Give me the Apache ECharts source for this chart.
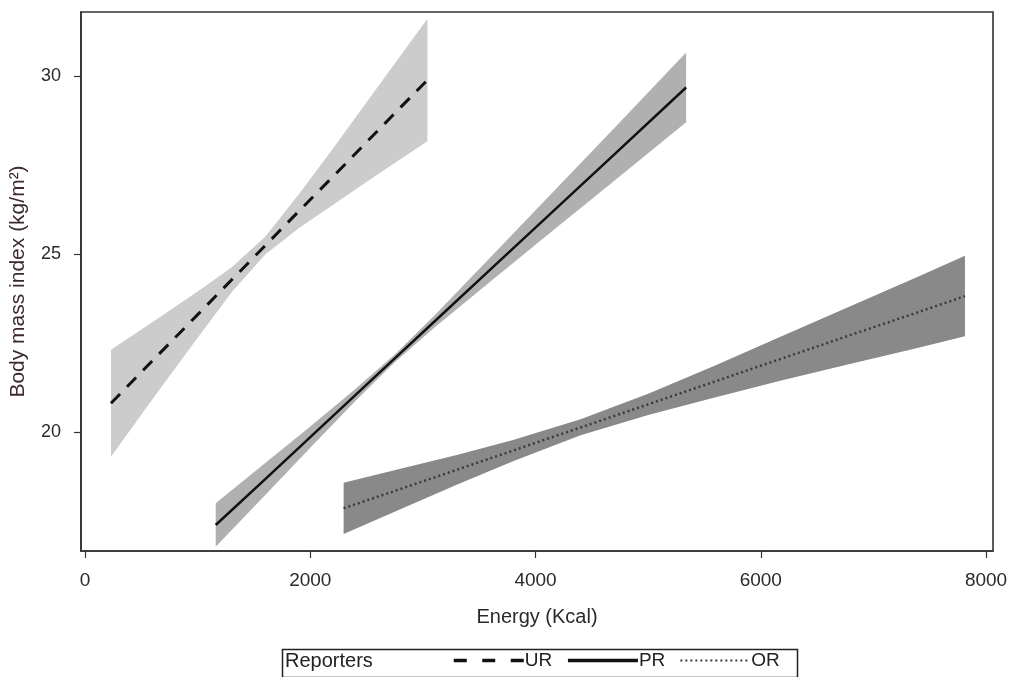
<!DOCTYPE html>
<html>
<head>
<meta charset="utf-8">
<script src="https://cdn.jsdelivr.net/npm/echarts@6/dist/echarts.min.js"></script>
<style>
html,body{margin:0;padding:0;background:#fff;}
#chart{width:1013px;height:677px;}
</style>
</head>
<body>
<div id="chart"></div>
<script>
// ---- data ----
const xTicks = [0, 2000, 4000, 6000, 8000];
const yTicks = [20, 25, 30];
const seriesNames = ['UR', 'PR', 'OR'];

// UR (dashed)
const urEnergy = [230, 600, 1000, 1300, 1600, 1900, 2200, 2600, 3040];
const urBMI    = [20.81, 22.01, 23.30, 24.27, 25.24, 26.21, 27.17, 28.47, 29.89];
const urUpper  = [22.31, 23.09, 23.95, 24.62, 25.49, 26.69, 27.96, 29.70, 31.61];
const urLower  = [19.31, 20.93, 22.65, 23.92, 24.99, 25.73, 26.38, 27.24, 28.17];

// PR (solid)
const prEnergy = [1160, 1600, 2000, 2400, 2750, 3100, 3600, 4100, 4700, 5337];
const prBMI    = [17.39, 18.68, 19.86, 21.04, 22.07, 23.10, 24.57, 26.04, 27.80, 29.68];
const prUpper  = [18.00, 19.13, 20.16, 21.21, 22.18, 23.27, 24.91, 26.56, 28.54, 30.66];
const prLower  = [16.78, 18.23, 19.56, 20.87, 21.96, 22.93, 24.23, 25.52, 27.06, 28.70];

// OR (dotted)
const orEnergy = [2296, 2800, 3300, 3800, 4400, 5000, 5600, 6200, 6800, 7400, 7813];
const orBMI    = [17.86, 18.40, 18.94, 19.48, 20.13, 20.78, 21.43, 22.08, 22.73, 23.37, 23.82];
const orUpper  = [18.58, 18.97, 19.36, 19.78, 20.36, 21.08, 21.88, 22.71, 23.54, 24.37, 24.95];
const orLower  = [17.14, 17.83, 18.52, 19.18, 19.91, 20.48, 20.98, 21.46, 21.92, 22.37, 22.69];

const FONT = '"Liberation Sans", Arial, sans-serif';

function rows(xs, lo, hi) { return xs.map((x, i) => [x, lo[i], hi[i]]); }

function bandSeries(xs, lo, hi, color) {
  return {
    type: 'custom',
    coordinateSystem: 'cartesian2d',
    silent: true,
    z: 1,
    data: rows(xs, lo, hi),
    encode: { x: 0, y: [1, 2] },
    renderItem: function (params, api) {
      if (params.dataIndex !== 0) return null;
      const pts = [];
      for (let i = 0; i < xs.length; i++) pts.push(api.coord([xs[i], hi[i]]));
      for (let i = xs.length - 1; i >= 0; i--) pts.push(api.coord([xs[i], lo[i]]));
      return { type: 'polygon', shape: { points: pts }, style: { fill: color, stroke: null } };
    }
  };
}

function lineSeries(name, xs, ys, type, width, color) {
  return {
    name: name,
    type: 'line',
    z: 3,
    symbol: 'none',
    silent: true,
    data: xs.map((x, i) => [x, ys[i]]),
    lineStyle: { color: color, width: width, type: type, cap: 'butt' },
    itemStyle: { color: color }
  };
}

const chart = echarts.init(document.getElementById('chart'), null, { renderer: 'canvas' });
chart.setOption({
  animation: false,
  backgroundColor: '#fff',
  grid: { left: 80, right: 20, top: 12, bottom: 126, show: true, borderColor: '#333', borderWidth: 1.6, containLabel: false },
  xAxis: {
    type: 'value', min: -36, max: 8062,
    name: 'Energy (Kcal)', nameLocation: 'middle', nameGap: 56,
    nameTextStyle: { fontFamily: FONT, fontSize: 20, color: '#2a2a2a' },
    axisLine: { show: true, onZero: false, lineStyle: { color: '#333', width: 1.6 } },
    axisTick: { show: true, inside: false, length: 7, lineStyle: { color: '#333', width: 1.2 }, customValues: xTicks },
    axisLabel: { customValues: xTicks, margin: 20, fontFamily: FONT, fontSize: 19, color: '#2a2a2a', formatter: v => String(v) },
    splitLine: { show: false }
  },
  yAxis: {
    type: 'value', min: 16.66, max: 31.8,
    name: 'Body mass index (kg/m²)', nameLocation: 'middle', nameGap: 52, nameRotate: 90,
    nameTextStyle: { fontFamily: FONT, fontSize: 21, color: '#3d2a2a' },
    axisLine: { show: true, onZero: false, lineStyle: { color: '#333', width: 1.6 } },
    axisTick: { show: true, inside: false, length: 7, lineStyle: { color: '#333', width: 1.2 }, customValues: yTicks },
    axisLabel: { customValues: yTicks, margin: 20, fontFamily: FONT, fontSize: 18, color: '#2a2a2a', formatter: v => String(v) },
    splitLine: { show: false }
  },
  legend: {
    data: [
      { name: seriesNames[0], lineStyle: { width: 3.5, type: [13, 15.5] } },
      { name: seriesNames[1], lineStyle: { width: 3.5 } },
      { name: seriesNames[2], lineStyle: { width: 2 } }
    ],
    left: 452, top: 651,
    itemWidth: 70, itemHeight: 14, itemGap: 14,
    padding: 0,
    selectedMode: false,
    itemStyle: { opacity: 0 },
    textStyle: { fontFamily: FONT, fontSize: 19, color: '#222', padding: [0, 0, 0, -4] }
  },
  graphic: [
    { type: 'rect', left: 280, top: 647, shape: { width: 515, height: 28 }, style: { fill: 'none', stroke: '#222', lineWidth: 1.5 }, z: 10 },
    { type: 'text', left: 285, top: 651, style: { text: 'Reporters', font: '20px ' + FONT, fill: '#222' }, z: 10 }
  ],
  series: [
    bandSeries(urEnergy, urLower, urUpper, '#cccccc'),
    bandSeries(prEnergy, prLower, prUpper, '#b0b0b0'),
    bandSeries(orEnergy, orLower, orUpper, '#898989'),
    lineSeries('UR', urEnergy, urBMI, [13, 10], 3, '#111'),
    lineSeries('PR', prEnergy, prBMI, 'solid', 2.5, '#111'),
    lineSeries('OR', orEnergy, orBMI, [2, 3], 2.5, '#3a3a3a')
  ]
});
</script>
</body>
</html>
